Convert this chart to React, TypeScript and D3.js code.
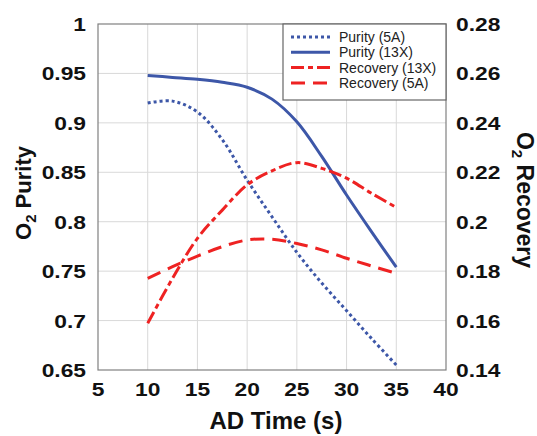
import React from "react";
import * as d3 from "d3";

const xTicks = [5, 10, 15, 20, 25, 30, 35, 40];
const purityTicks = [0.65, 0.7, 0.75, 0.8, 0.85, 0.9, 0.95, 1];
const recoveryTicks = [0.14, 0.16, 0.18, 0.2, 0.22, 0.24, 0.26, 0.28];

const times = [10, 12.5, 15, 17.5, 20, 22.5, 25, 27.5, 30, 32.5, 35];
const purity5A = [0.92, 0.922, 0.911, 0.883, 0.842, 0.805, 0.769, 0.738, 0.71, 0.682, 0.655];
const purity13X = [0.948, 0.946, 0.944, 0.941, 0.936, 0.924, 0.901, 0.866, 0.827, 0.79, 0.754];
const recovery13X = [0.1589, 0.1771, 0.1933, 0.2047, 0.2149, 0.2206, 0.2239, 0.2216, 0.2176, 0.2115, 0.2058];
const recovery5A = [0.1771, 0.1818, 0.1861, 0.1899, 0.1926, 0.1929, 0.1912, 0.1886, 0.1852, 0.1821, 0.1791];

const legendLabels = ["Purity (5A)", "Purity (13X)", "Recovery (13X)", "Recovery (5A)"];

const BLUE = "#3d57a8";
const RED = "#ee2222";

export default function App() {
  const left = 98, right = 446, top = 24, bottom = 370;
  const x = d3.scaleLinear().domain([5, 40]).range([left, right]);
  const yL = d3.scaleLinear().domain([0.65, 1]).range([bottom, top]);
  const yR = d3.scaleLinear().domain([0.14, 0.28]).range([bottom, top]);

  const lineL = d3.line<[number, number]>().x(d => x(d[0])).y(d => yL(d[1])).curve(d3.curveCatmullRom.alpha(0.5));
  const lineR = d3.line<[number, number]>().x(d => x(d[0])).y(d => yR(d[1])).curve(d3.curveCatmullRom.alpha(0.5));
  const zip = (v: number[]) => times.map((t, i) => [t, v[i]] as [number, number]);

  const series = [
    { d: lineL(zip(purity5A)), color: BLUE, dash: "3,3" },
    { d: lineL(zip(purity13X)), color: BLUE, dash: "none" },
    { d: lineR(zip(recovery13X)), color: RED, dash: "13,4,5,4" },
    { d: lineR(zip(recovery5A)), color: RED, dash: "14,8" },
  ];

  const font = "Liberation Sans, Arial, sans-serif";
  const sx = 1.2;

  return (
    <svg width={537} height={436} style={{ position: "absolute", left: 0, top: 0, background: "#fff" }} fontFamily={font}>
      <rect x={0} y={0} width={537} height={436} fill="#fff" />
      {xTicks.slice(1, -1).map(t => (
        <line key={"gx" + t} x1={x(t)} x2={x(t)} y1={top} y2={bottom} stroke="#d9d9d9" strokeWidth={1} />
      ))}
      {purityTicks.slice(1, -1).map(t => (
        <line key={"gy" + t} x1={left} x2={right} y1={yL(t)} y2={yL(t)} stroke="#d9d9d9" strokeWidth={1} />
      ))}
      <rect x={left} y={top} width={right - left} height={bottom - top} fill="none" stroke="#808080" strokeWidth={1.2} />
      {series.map((s, i) => (
        <path key={i} d={s.d || ""} fill="none" stroke={s.color} strokeWidth={3} strokeDasharray={s.dash} />
      ))}
      {purityTicks.map(t => (
        <g key={"yl" + t} transform={`translate(86,${yL(t) + 7}) scale(${sx},1)`}>
          <text textAnchor="end" fontSize={19} fontWeight="bold" fill="#111">{String(t)}</text>
        </g>
      ))}
      {recoveryTicks.map(t => (
        <g key={"yr" + t} transform={`translate(456,${yR(t) + 7}) scale(${sx},1)`}>
          <text textAnchor="start" fontSize={19} fontWeight="bold" fill="#111">{String(t)}</text>
        </g>
      ))}
      {xTicks.map(t => (
        <g key={"xt" + t} transform={`translate(${x(t)},396) scale(${sx},1)`}>
          <text textAnchor="middle" fontSize={19} fontWeight="bold" fill="#111">{String(t)}</text>
        </g>
      ))}
      <text x={276} y={429} textAnchor="middle" fontSize={24} fontWeight="bold" fill="#111">AD Time (s)</text>
      <text transform="translate(31,193) rotate(-90)" textAnchor="middle" fontSize={22} fontWeight="bold" fill="#111">
        O<tspan fontSize={15} dy={5}>2</tspan><tspan dy={-5}> Purity</tspan>
      </text>
      <text transform="translate(517,200) rotate(90)" textAnchor="middle" fontSize={23} fontWeight="bold" fill="#111">
        O<tspan fontSize={15} dy={5}>2</tspan><tspan dy={-5}> Recovery</tspan>
      </text>
      <rect x={283} y={24} width={163} height={76} fill="#fff" stroke="#666" strokeWidth={1.2} />
      {legendLabels.map((lab, i) => {
        const ly = 37 + i * 15.3;
        const s = series[i];
        return (
          <g key={lab}>
            <line x1={291} x2={330} y1={ly} y2={ly} stroke={s.color} strokeWidth={3} strokeDasharray={s.dash} />
            <text x={339} y={ly + 5} fontSize={14} fill="#222">{lab}</text>
          </g>
        );
      })}
    </svg>
  );
}
